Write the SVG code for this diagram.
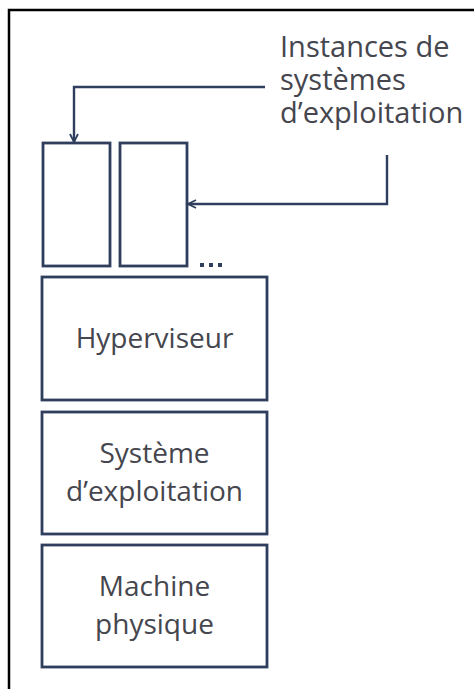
<svg xmlns="http://www.w3.org/2000/svg" width="474" height="689" viewBox="0 0 474 689">
<defs>
<style>
.box{fill:#ffffff;stroke:#2f3e5c;stroke-width:2.8}
.lbl{font-family:"Open Sans","Lato","Liberation Sans",sans-serif;font-size:28px;fill:#45464e}
.top{font-size:29px}
.mid{text-anchor:middle}
.conn{fill:none;stroke:#2f3e5c;stroke-width:2.4}
</style>
<marker id="ah" viewBox="0 0 10 10" refX="9" refY="5" markerWidth="10" markerHeight="10" markerUnits="userSpaceOnUse" orient="auto">
<path d="M1,1 L9,5 L1,9" fill="none" stroke="#2f3e5c" stroke-width="1.8"/>
</marker>
</defs>
<rect x="0" y="0" width="474" height="689" fill="#ffffff"/>
<path d="M9,689 V10 H474" fill="none" stroke="#000000" stroke-width="2.5"/>
<g id="instance1"><rect class="box" x="43" y="143" width="67" height="123"/></g>
<g id="instance2"><rect class="box" x="120" y="143" width="67" height="123"/></g>
<g id="ellipsis"><rect x="200" y="263" width="4" height="4" fill="#2f3e5c"/><rect x="209" y="263" width="4" height="4" fill="#2f3e5c"/><rect x="218" y="263" width="4" height="4" fill="#2f3e5c"/></g>
<g id="hyperviseur"><rect class="box" x="42" y="277" width="225" height="123"/><text class="lbl mid" x="154.5" y="348">Hyperviseur</text></g>
<g id="systeme"><rect class="box" x="42" y="412" width="225" height="122"/><text class="lbl mid" x="154.5" y="463">Système</text><text class="lbl mid" x="154.5" y="501">d’exploitation</text></g>
<g id="machine"><rect class="box" x="42" y="545" width="225" height="122"/><text class="lbl mid" x="154.5" y="596">Machine</text><text class="lbl mid" x="154.5" y="634">physique</text></g>
<g id="label"><text class="lbl top" x="280" y="57">Instances de</text><text class="lbl top" x="280" y="90">systèmes</text><text class="lbl top" x="280" y="123">d’exploitation</text></g>
<g id="connectors">
<path class="conn" d="M265,87 H74 V142" marker-end="url(#ah)"/>
<path class="conn" d="M387,155 V204 H188" marker-end="url(#ah)"/>
</g>
</svg>
